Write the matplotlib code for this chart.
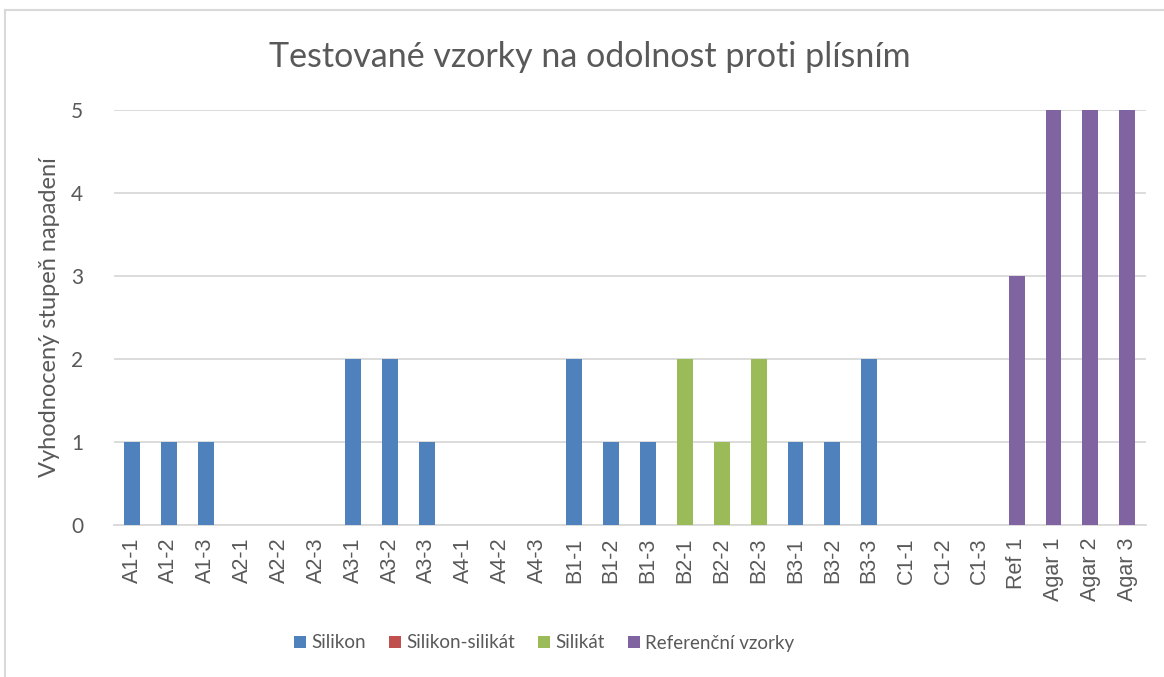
import matplotlib
matplotlib.use("Agg")
import matplotlib.pyplot as plt
import numpy as np

categories = ["A1-1", "A1-2", "A1-3", "A2-1", "A2-2", "A2-3", "A3-1", "A3-2", "A3-3",
              "A4-1", "A4-2", "A4-3", "B1-1", "B1-2", "B1-3", "B2-1", "B2-2", "B2-3",
              "B3-1", "B3-2", "B3-3", "C1-1", "C1-2", "C1-3", "Ref 1", "Agar 1", "Agar 2", "Agar 3"]

silikon =         [1, 1, 1, 0, 0, 0, 2, 2, 1, 0, 0, 0, 2, 1, 1, 0, 0, 0, 1, 1, 2, 0, 0, 0, 0, 0, 0, 0]
silikon_silikat = [0, 0, 0, 0, 0, 0, 0, 0, 0, 0, 0, 0, 0, 0, 0, 0, 0, 0, 0, 0, 0, 0, 0, 0, 0, 0, 0, 0]
silikat =         [0, 0, 0, 0, 0, 0, 0, 0, 0, 0, 0, 0, 0, 0, 0, 2, 1, 2, 0, 0, 0, 0, 0, 0, 0, 0, 0, 0]
referencni =      [0, 0, 0, 0, 0, 0, 0, 0, 0, 0, 0, 0, 0, 0, 0, 0, 0, 0, 0, 0, 0, 0, 0, 0, 3, 5, 5, 5]

series_names = ["Silikon", "Silikon-silikát", "Silikát", "Referenční vzorky"]
series_colors = ["#4F81BD", "#C0504D", "#9BBB59", "#8064A2"]

TEXT = "#595959"
GRID = "#D9D9D9"
UI_FONT = ["Lato", "DejaVu Sans"]
LABEL_FONT = ["Liberation Sans", "DejaVu Sans"]

W, H = 1164, 677
fig = plt.figure(figsize=(W / 100, H / 100), dpi=100)
fig.patch.set_facecolor("white")

# chart frame (top and left edges visible)
fig.add_artist(plt.Line2D([5 / W, 5 / W], [0, 1 - 10 / H], transform=fig.transFigure,
                          color="#D9D9D9", lw=1.5))
fig.add_artist(plt.Line2D([5 / W, 1], [1 - 10 / H, 1 - 10 / H], transform=fig.transFigure,
                          color="#D9D9D9", lw=1.5))

left, right, y0, y5 = 113.6, 1145.6, 525, 110
ax = fig.add_axes([left / W, (H - y0) / H, (right - left) / W, (y0 - y5) / H])

x = np.arange(len(categories))
bottom = np.zeros(len(categories))
for name, vals, col in zip(series_names, [silikon, silikon_silikat, silikat, referencni], series_colors):
    v = np.array(vals, dtype=float)
    ax.bar(x, v, width=0.43, bottom=bottom, color=col, label=name, zorder=3)
    bottom += v

ax.set_xlim(-0.5, len(categories) - 0.5)
ax.set_ylim(0, 5)
ax.set_yticks(range(6))
ax.yaxis.grid(True, color=GRID, lw=1.3, zorder=0)
for s in ["top", "right", "left"]:
    ax.spines[s].set_visible(False)
ax.spines["bottom"].set_color(GRID)
ax.spines["bottom"].set_linewidth(1.3)
ax.tick_params(axis="both", length=0, colors=TEXT)
ax.tick_params(axis="y", pad=22)
ax.set_xticks(x)
ax.set_xticklabels(categories, rotation=90, fontsize=15.5, family=LABEL_FONT, color=TEXT)
for lab in ax.get_yticklabels():
    lab.set_fontsize(15)
    lab.set_family(UI_FONT)
    lab.set_color(TEXT)
ax.tick_params(axis="x", pad=9)

ax.set_ylabel("Vyhodnocený stupeň napadení", fontsize=17, family=UI_FONT, color=TEXT, labelpad=8)

fig.text(590 / W, 1 - 57 / H, "Testované vzorky na odolnost proti plísním",
         ha="center", va="center", fontsize=24.5, family=UI_FONT, color=TEXT)

leg = ax.legend(loc="center", bbox_to_anchor=(544 / W, 1 - 643 / H), bbox_transform=fig.transFigure,
                ncol=4, frameon=False, prop={"family": UI_FONT, "size": 13.5},
                handlelength=0.65, handleheight=0.65, handletextpad=0.25, columnspacing=1.25)
for t in leg.get_texts():
    t.set_color(TEXT)

fig.savefig("out.png", dpi=100, facecolor="white")
